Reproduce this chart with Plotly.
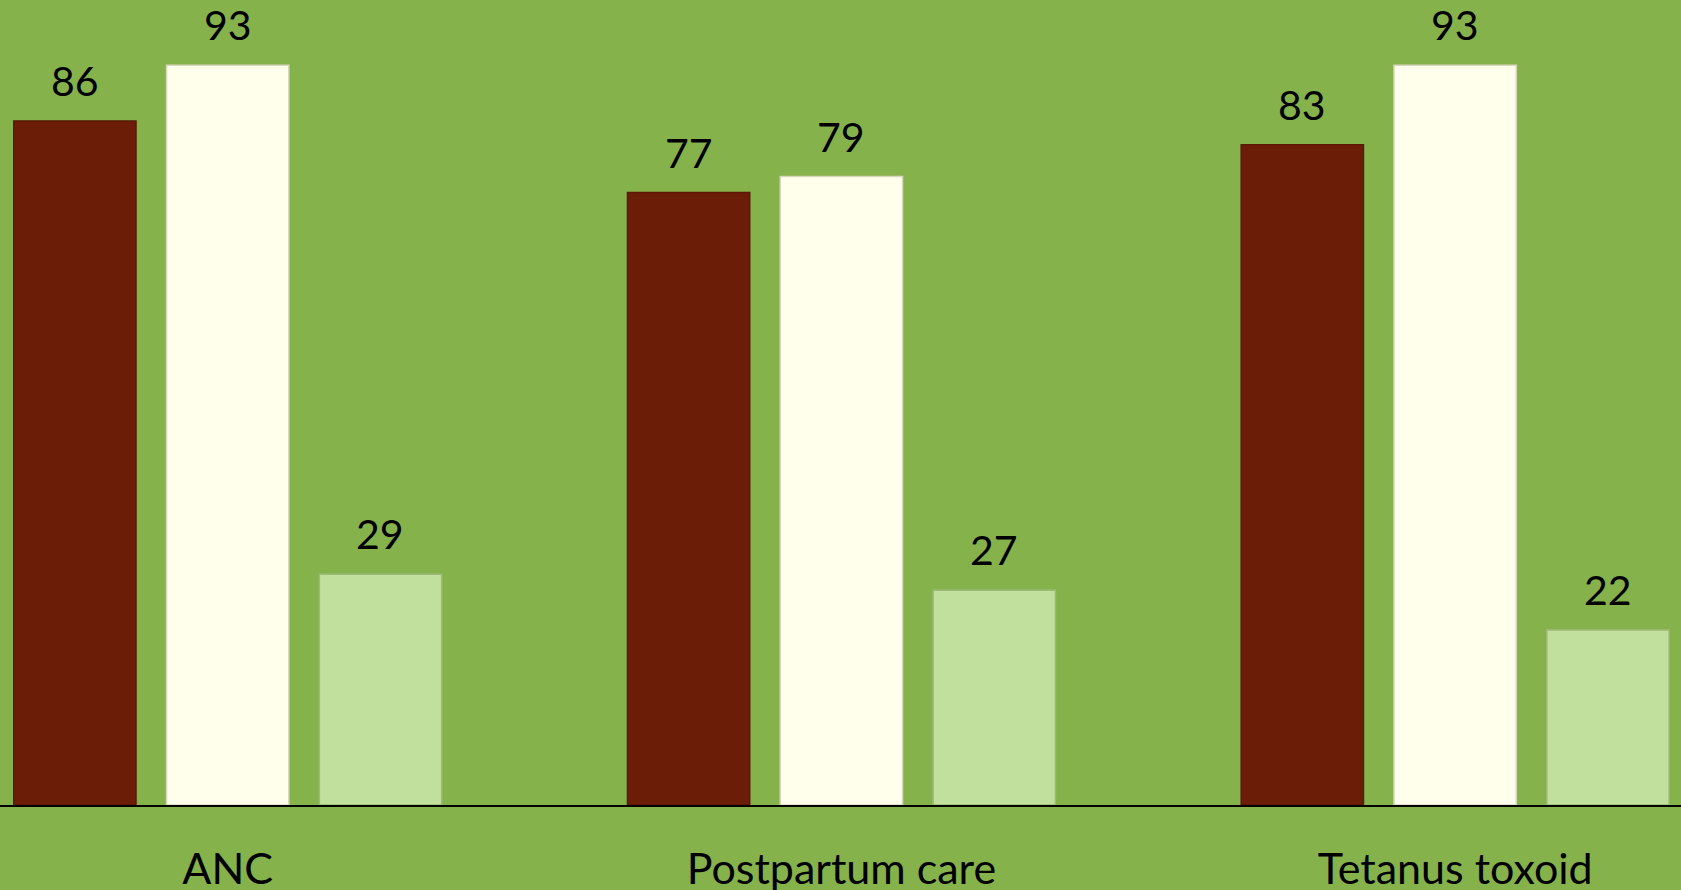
import plotly.graph_objects as go

categories = ["ANC", "Postpartum care", "Tetanus toxoid"]
series_names = ["Series 1", "Series 2", "Series 3"]
series_values = [
    [86, 77, 83],
    [93, 79, 93],
    [29, 27, 22],
]

_FONT = "Lato, 'Open Sans', sans-serif"
BG = "#86B24C"
COLORS = ["#6B1D07", "#FFFFEC", "#C2E09D"]
EDGES = ["#5A1805", "#D9D6BE", "#9DBB78"]

fig = go.Figure()
for name, vals, color, edge in zip(series_names, series_values, COLORS, EDGES):
    fig.add_trace(go.Bar(
        x=categories, y=vals, name=name,
        marker=dict(color=color, line=dict(color=edge, width=1.5)),
    ))

# value labels above each bar, shifted to sit over their bar in the group
pitch_px = 152.8
for i, vals in enumerate(series_values):
    for cat, v in zip(categories, vals):
        fig.add_annotation(
            x=cat, y=v, text=str(v), showarrow=False,
            xanchor="center", yanchor="bottom",
            xshift=(i - 1) * pitch_px, yshift=14,
            font=dict(family=_FONT, size=41, color="#000000"),
        )

fig.update_layout(
    width=1681, height=890,
    barmode="group", bargap=0.253, bargroupgap=0.2,
    showlegend=False,
    paper_bgcolor=BG, plot_bgcolor=BG,
    margin=dict(l=0, r=0, t=0, b=85),
    font=dict(family=_FONT, size=40, color="#000000"),
    xaxis=dict(
        range=[-0.371, 2.368], showgrid=False, zeroline=False,
        showline=True, linecolor="#000000", linewidth=1.5,
        ticks="", ticklabelstandoff=26, automargin=False,
        tickfont=dict(family=_FONT, size=43, color="#000000"),
    ),
    yaxis=dict(range=[0, 101.2], visible=False, showgrid=False,
               automargin=False),
)

fig.write_html("out.html", config={"displayModeBar": False},
               post_script="document.body.style.margin='0';")
